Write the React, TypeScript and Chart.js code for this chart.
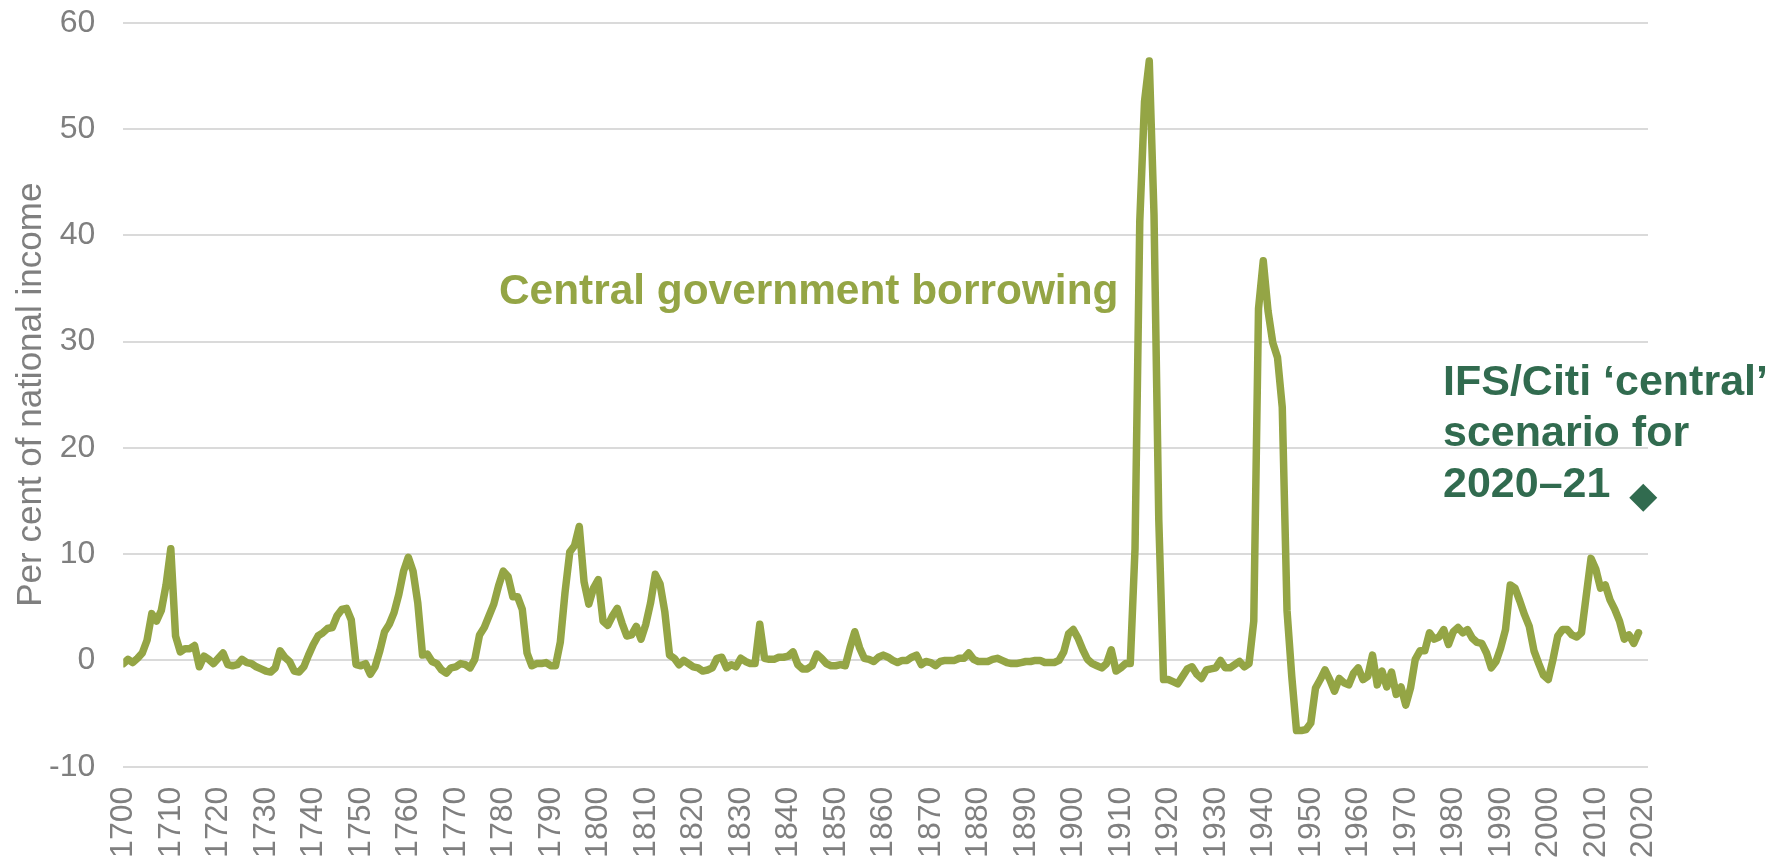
import React, { useEffect, useRef } from 'react';
import { Chart, registerables } from 'chart.js';

Chart.register(...registerables);

// Central government borrowing, per cent of national income, one value per year from 1700
const startYear = 1700;
const borrowing1700s = [-0.3, 0.1, -0.2, 0.2, 0.7, 1.9, 4.4, 3.7, 4.7, 7.1];
const borrowing1710s = [10.5, 2.3, 0.8, 1.1, 1.1, 1.4, -0.6, 0.4, 0.1, -0.3];
const borrowing1720s = [0.2, 0.7, -0.4, -0.5, -0.4, 0.1, -0.2, -0.3, -0.6, -0.8];
const borrowing1730s = [-1.0, -1.1, -0.7, 0.9, 0.3, -0.1, -1.0, -1.1, -0.6, 0.5];
const borrowing1740s = [1.5, 2.3, 2.6, 3.0, 3.1, 4.2, 4.8, 4.9, 3.8, -0.4];
const borrowing1750s = [-0.5, -0.3, -1.3, -0.6, 0.9, 2.7, 3.4, 4.5, 6.2, 8.4];
const borrowing1760s = [9.7, 8.4, 5.4, 0.5, 0.6, -0.1, -0.3, -0.9, -1.2, -0.7];
const borrowing1770s = [-0.6, -0.3, -0.4, -0.7, 0.1, 2.4, 3.1, 4.2, 5.3, 7.0];
const borrowing1780s = [8.4, 7.9, 6.0, 6.0, 4.8, 0.7, -0.5, -0.3, -0.3, -0.2];
const borrowing1790s = [-0.5, -0.5, 1.7, 6.4, 10.2, 10.8, 12.6, 7.4, 5.3, 6.8];
const borrowing1800s = [7.6, 3.7, 3.3, 4.2, 4.9, 3.5, 2.3, 2.4, 3.2, 2.0];
const borrowing1810s = [3.4, 5.4, 8.1, 7.2, 4.6, 0.5, 0.2, -0.4, 0.0, -0.3];
const borrowing1820s = [-0.6, -0.7, -1.0, -0.9, -0.7, 0.2, 0.3, -0.7, -0.4, -0.6];
const borrowing1830s = [0.2, -0.1, -0.3, -0.3, 3.4, 0.2, 0.1, 0.1, 0.3, 0.3];
const borrowing1840s = [0.4, 0.8, -0.4, -0.8, -0.8, -0.5, 0.6, 0.2, -0.3, -0.5];
const borrowing1850s = [-0.5, -0.4, -0.5, 1.2, 2.7, 1.2, 0.2, 0.1, -0.1, 0.3];
const borrowing1860s = [0.5, 0.3, 0.0, -0.2, 0.0, 0.0, 0.3, 0.5, -0.4, -0.1];
const borrowing1870s = [-0.2, -0.5, -0.1, 0.0, 0.0, 0.0, 0.2, 0.2, 0.7, 0.1];
const borrowing1880s = [-0.1, -0.1, -0.1, 0.1, 0.2, 0.0, -0.2, -0.3, -0.3, -0.2];
const borrowing1890s = [-0.1, -0.1, 0.0, 0.0, -0.2, -0.2, -0.2, 0.0, 0.8, 2.5];
const borrowing1900s = [2.9, 2.1, 1.0, 0.1, -0.3, -0.5, -0.7, -0.3, 1.0, -1.0];
const borrowing1910s = [-0.7, -0.3, -0.3, 10.5, 41.3, 52.6, 56.4, 41.9, 13.3, -1.8];
const borrowing1920s = [-1.8, -2.0, -2.2, -1.5, -0.8, -0.6, -1.3, -1.7, -0.9, -0.8];
const borrowing1930s = [-0.7, 0.0, -0.7, -0.7, -0.4, -0.1, -0.6, -0.3, 3.7, 33.1];
const borrowing1940s = [37.6, 32.9, 29.9, 28.5, 23.8, 4.7, -1.5, -6.6, -6.6, -6.5];
const borrowing1950s = [-5.9, -2.6, -1.8, -0.9, -1.8, -2.9, -1.7, -2.1, -2.3, -1.2];
const borrowing1960s = [-0.7, -1.8, -1.5, 0.5, -2.3, -1.0, -2.5, -1.1, -3.2, -2.5];
const borrowing1970s = [-4.2, -2.6, 0.1, 0.9, 0.9, 2.6, 2.0, 2.2, 2.9, 1.5];
const borrowing1980s = [2.7, 3.1, 2.6, 2.9, 2.1, 1.7, 1.6, 0.7, -0.7, -0.1];
const borrowing1990s = [1.2, 2.9, 7.1, 6.8, 5.6, 4.3, 3.2, 0.9, -0.3, -1.4];
const borrowing2000s = [-1.8, 0.1, 2.3, 2.9, 2.9, 2.4, 2.2, 2.6, 6.1, 9.6];
const borrowing2010s = [8.6, 6.8, 7.1, 5.7, 4.8, 3.7, 2.0, 2.4, 1.6, 2.6];

// IFS/Citi 'central' scenario for 2020–21
const scenarioYear = 2020;
const scenarioValue = 15.3;

// Axis ranges and tick steps
const xRange = [1700, 2021];
const xTickStep = 10;
const yRange = [-10, 60];
const yTickStep = 10;

const yAxisTitle = 'Per cent of national income';
const seriesLabel = 'Central government borrowing';
const scenarioLines = ['IFS/Citi \u2018central\u2019', 'scenario for', '2020\u201321'];

const OLIVE = '#94A545';
const DARK_GREEN = '#316B4F';
const GREY = '#7F7F7F';
const GRID = '#DADADA';
const FONT = '"Liberation Sans", Arial, Helvetica, sans-serif';

const borrowing = [
  ...borrowing1700s, ...borrowing1710s, ...borrowing1720s, ...borrowing1730s,
  ...borrowing1740s, ...borrowing1750s, ...borrowing1760s, ...borrowing1770s,
  ...borrowing1780s, ...borrowing1790s, ...borrowing1800s, ...borrowing1810s,
  ...borrowing1820s, ...borrowing1830s, ...borrowing1840s, ...borrowing1850s,
  ...borrowing1860s, ...borrowing1870s, ...borrowing1880s, ...borrowing1890s,
  ...borrowing1900s, ...borrowing1910s, ...borrowing1920s, ...borrowing1930s,
  ...borrowing1940s, ...borrowing1950s, ...borrowing1960s, ...borrowing1970s,
  ...borrowing1980s, ...borrowing1990s, ...borrowing2000s, ...borrowing2010s,
];

// In-chart text labels for the series and the scenario point
const annotationPlugin = {
  id: 'seriesAnnotations',
  afterDatasetsDraw(chart: any) {
    const ctx = chart.ctx as CanvasRenderingContext2D;
    ctx.save();
    ctx.textAlign = 'left';
    ctx.textBaseline = 'alphabetic';
    ctx.font = `bold 42.4px ${FONT}`;
    ctx.fillStyle = OLIVE;
    ctx.fillText(seriesLabel, 499, 304);
    ctx.font = `bold 43px ${FONT}`;
    ctx.fillStyle = DARK_GREEN;
    const baselines = [395, 446, 497];
    scenarioLines.forEach((line, i) => ctx.fillText(line, 1443, baselines[i]));
    ctx.restore();
  },
};

export default function App() {
  const canvasRef = useRef<HTMLCanvasElement>(null);

  useEffect(() => {
    const canvas = canvasRef.current;
    if (!canvas) return;
    const linePoints = borrowing.map((v, i) => ({ x: startYear + i, y: v }));

    const chart = new Chart(canvas, {
      type: 'line',
      data: {
        datasets: [
          {
            label: seriesLabel,
            data: linePoints,
            borderColor: OLIVE,
            backgroundColor: OLIVE,
            borderWidth: 7.5,
            pointRadius: 0,
            pointHoverRadius: 0,
            borderJoinStyle: 'round',
            borderCapStyle: 'round',
            tension: 0,
            fill: false,
          },
          {
            type: 'scatter',
            label: scenarioLines.join(' '),
            data: [{ x: scenarioYear, y: scenarioValue }],
            pointStyle: 'rectRot',
            pointRadius: 14,
            pointHoverRadius: 14,
            backgroundColor: DARK_GREEN,
            borderColor: DARK_GREEN,
            borderWidth: 0,
            showLine: false,
            clip: false,
          } as any,
        ],
      },
      options: {
        animation: false,
        responsive: true,
        maintainAspectRatio: false,
        events: [],
        layout: { padding: { top: 22.7, right: 131, bottom: 0, left: 0 } },
        plugins: {
          legend: { display: false },
          tooltip: { enabled: false },
        },
        scales: {
          x: {
            type: 'linear',
            min: xRange[0],
            max: xRange[1],
            grid: { display: false, drawTicks: false },
            border: { display: false },
            ticks: {
              stepSize: xTickStep,
              includeBounds: false,
              autoSkip: false,
              maxRotation: 90,
              minRotation: 90,
              padding: 20,
              color: GREY,
              font: { family: FONT, size: 32 },
              callback: (v: any) => String(v),
            },
            afterFit: (scale: any) => {
              scale.height = 90.3;
            },
          },
          y: {
            min: yRange[0],
            max: yRange[1],
            grid: {
              color: GRID,
              lineWidth: 2,
              drawTicks: true,
              tickLength: 28,
              tickColor: 'rgba(0,0,0,0)',
            },
            border: { display: false },
            ticks: {
              stepSize: yTickStep,
              padding: 0,
              color: GREY,
              font: { family: FONT, size: 32 },
            },
            title: {
              display: true,
              text: yAxisTitle,
              color: GREY,
              font: { family: FONT, size: 35 },
              padding: { top: 10, bottom: 0 },
            },
            afterFit: (scale: any) => {
              scale.width = 123.3;
            },
          },
        },
      },
      plugins: [annotationPlugin],
    });

    return () => chart.destroy();
  }, []);

  return (
    <div style={{ position: 'fixed', left: 0, top: 0, width: 1779, height: 857, background: '#fff' }}>
      <canvas ref={canvasRef} />
    </div>
  );
}
